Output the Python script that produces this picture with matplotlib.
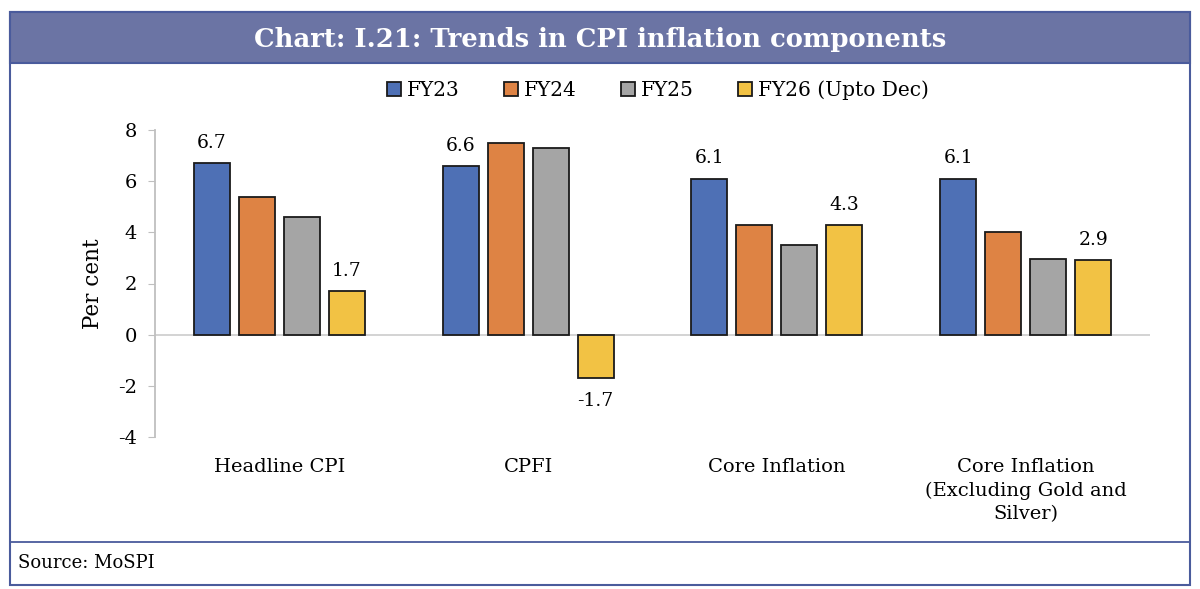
import matplotlib.pyplot as plt
from matplotlib.patches import Rectangle
import numpy as np

categories = ["Headline CPI", "CPFI", "Core Inflation",
              "Core Inflation\n(Excluding Gold and\nSilver)"]
series = ["FY23", "FY24", "FY25", "FY26 (Upto Dec)"]
fy23 = [6.7, 6.6, 6.1, 6.1]
fy24 = [5.4, 7.5, 4.3, 4.0]
fy25 = [4.6, 7.3, 3.5, 2.95]
fy26 = [1.7, -1.7, 4.3, 2.9]
colors = ["#4E70B5", "#DE8344", "#A5A5A5", "#F2C244"]
yticks = [-4, -2, 0, 2, 4, 6, 8]

plt.rcParams['font.family'] = ['DejaVu Serif']

W, H = 1200, 589
fig = plt.figure(figsize=(W / 100, H / 100), dpi=100)


def px(x, y):
    return x / W, 1 - y / H


# frame, title bar, source divider
frame_col = "#4A5B9C"
x0, y0 = px(10, 585)
fig.patches.append(Rectangle((x0, y0), 1180 / W, 573 / H, transform=fig.transFigure,
                             fill=False, edgecolor=frame_col, lw=1.5, zorder=0))
x0, y0 = px(10, 63)
fig.patches.append(Rectangle((x0, y0), 1180 / W, 51 / H, transform=fig.transFigure,
                             facecolor="#6B74A4", edgecolor=frame_col, lw=1.5, zorder=0))
fig.add_artist(plt.Line2D([10 / W, 1190 / W], [1 - 542 / H] * 2, color=frame_col, lw=1.3))

fig.text(0.5, 1 - 40 / H, "Chart: I.21: Trends in CPI inflation components",
         ha='center', va='center', color='white', fontsize=18.6, fontweight='bold')
fig.text(18 / W, 1 - 563 / H, "Source: MoSPI", ha='left', va='center', fontsize=13)

ax = fig.add_axes([155 / W, (H - 437) / H, 995 / W, 307 / H])

x = np.arange(len(categories))
step = 0.181
width = 0.145
data = [fy23, fy24, fy25, fy26]
bars = []
for i, (vals, name, c) in enumerate(zip(data, series, colors)):
    b = ax.bar(x + (i - 1.5) * step, vals, width, color=c, edgecolor='#1a1a1a',
               linewidth=1.3, label=name, zorder=3)
    bars.append(b)

# labels for first and last series only
for i in [0, 3]:
    for rect, v in zip(bars[i], data[i]):
        cx = rect.get_x() + rect.get_width() / 2
        if v >= 0:
            ax.annotate(f"{v:.1f}", (cx, v), xytext=(0, 8), textcoords='offset points',
                        ha='center', va='bottom', fontsize=13.5)
        else:
            ax.annotate(f"{v:.1f}", (cx, v), xytext=(0, -10), textcoords='offset points',
                        ha='center', va='top', fontsize=13.5)

ax.set_xlim(-0.5, len(categories) - 0.5)
ax.set_ylim(-4, 8)
ax.set_yticks(yticks)
ax.set_yticklabels([str(t) for t in yticks], fontsize=14)
ax.set_xticks(x)
ax.set_xticklabels(categories, fontsize=14, linespacing=1.4)
ax.tick_params(axis='x', length=0, pad=15)
ax.tick_params(axis='y', length=5, color='#BFBFBF', pad=8)
ax.axhline(0, color='#D0D0D0', lw=1.3, zorder=2)
for s in ['top', 'right', 'bottom']:
    ax.spines[s].set_visible(False)
ax.spines['left'].set_color('#BFBFBF')
ax.spines['left'].set_linewidth(1.3)
ax.set_ylabel("Per cent", fontsize=15.5, labelpad=10)

fig.legend(handles=bars, labels=series, loc='center', bbox_to_anchor=(658 / W, 1 - 90 / H),
           ncol=4, frameon=False, fontsize=14.5, handlelength=0.7, handleheight=0.7,
           handletextpad=0.3, columnspacing=2.2)

fig.savefig("out.png", dpi=100)
